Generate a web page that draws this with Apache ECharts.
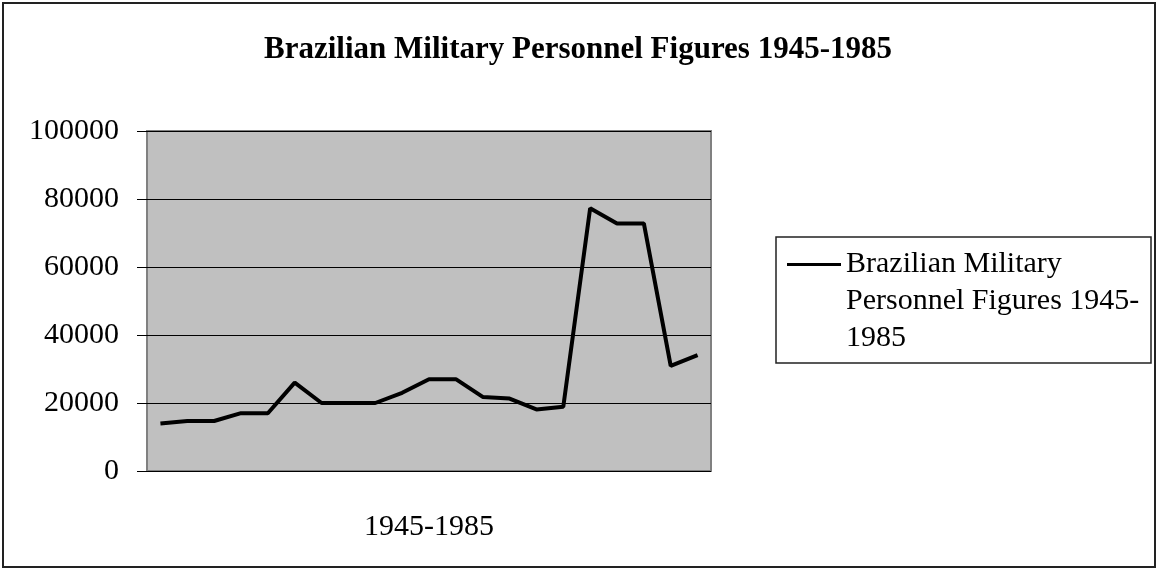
<!DOCTYPE html>
<html>
<head>
<meta charset="utf-8">
<script src="https://cdn.jsdelivr.net/npm/echarts@6/dist/echarts.min.js"></script>
<style>
  html, body { margin: 0; padding: 0; background: #fff; }
  #chart { width: 1156px; height: 569px; }
</style>
</head>
<body>
<div id="chart"></div>
<script>
// Years sampled every two years, 1945-1985 (no labels shown on the axis)
const years = ['1945', '1947', '1949', '1951', '1953', '1955', '1957', '1959', '1961', '1963', '1965',
               '1967', '1969', '1971', '1973', '1975', '1977', '1979', '1981', '1983', '1985'];
const personnel = [14000, 14700, 14700, 17000, 17000, 26000, 20000, 20000, 20000, 23000, 27000,
                   27000, 21800, 21300, 18100, 18900, 77300, 72800, 72800, 30900, 34100];
const yTicks = [0, 20000, 40000, 60000, 80000, 100000];

const seriesName = 'Brazilian Military Personnel Figures 1945-1985';
const FONT = '"Liberation Serif", "Times New Roman", serif';

const chart = echarts.init(document.getElementById('chart'));

const option = {
  backgroundColor: '#ffffff',
  animation: false,
  title: {
    text: seriesName,
    left: 'center',
    top: 34,
    padding: 0,
    textStyle: { fontFamily: FONT, fontSize: 31, fontWeight: 'bold', color: '#000' }
  },
  grid: {
    left: 147,
    right: 445,
    top: 131,
    bottom: 98,
    show: true,
    backgroundColor: '#c0c0c0',
    borderColor: '#808080',
    borderWidth: 2
  },
  legend: {
    left: 787,
    top: 172,
    padding: 0,
    icon: 'rect',
    itemWidth: 54,
    itemHeight: 3,
    // two leading blank lines keep the swatch level with the first text line
    formatter: () => '\n\nBrazilian Military\nPersonnel Figures 1945-\n1985',
    textStyle: { fontFamily: FONT, fontSize: 30, color: '#000', lineHeight: 37 },
    data: [{ name: seriesName, itemStyle: { color: '#000' } }]
  },
  graphic: [
    { // outer chart frame
      type: 'rect', silent: true,
      shape: { x: 3, y: 3, width: 1152, height: 564 },
      style: { fill: 'none', stroke: '#222', lineWidth: 2 }
    },
    { // legend box
      type: 'rect', silent: true,
      shape: { x: 776, y: 237, width: 375, height: 126 },
      style: { fill: 'none', stroke: '#222', lineWidth: 1.5 }
    }
  ],
  xAxis: {
    type: 'category',
    data: years,
    boundaryGap: true,
    axisLine: { show: false },
    axisTick: { show: false },
    axisLabel: { show: false },
    name: '1945-1985',
    nameLocation: 'middle',
    nameGap: 41,
    nameTextStyle: { fontFamily: FONT, fontSize: 30, color: '#000' }
  },
  yAxis: {
    type: 'value',
    min: yTicks[0],
    max: yTicks[yTicks.length - 1],
    interval: 20000,
    axisLine: { show: false },
    axisTick: { show: true, length: 10, lineStyle: { color: '#000', width: 1 } },
    axisLabel: {
      margin: 28, fontFamily: FONT, fontSize: 30, color: '#000',
      formatter: v => String(v)
    },
    splitLine: { show: true, lineStyle: { color: '#000', width: 1 } }
  },
  series: [
    {
      name: seriesName,
      type: 'line',
      data: personnel,
      symbol: 'none',
      color: '#000',
      lineStyle: { color: '#000', width: 4 }
    }
  ]
};

chart.setOption(option);
</script>
</body>
</html>
